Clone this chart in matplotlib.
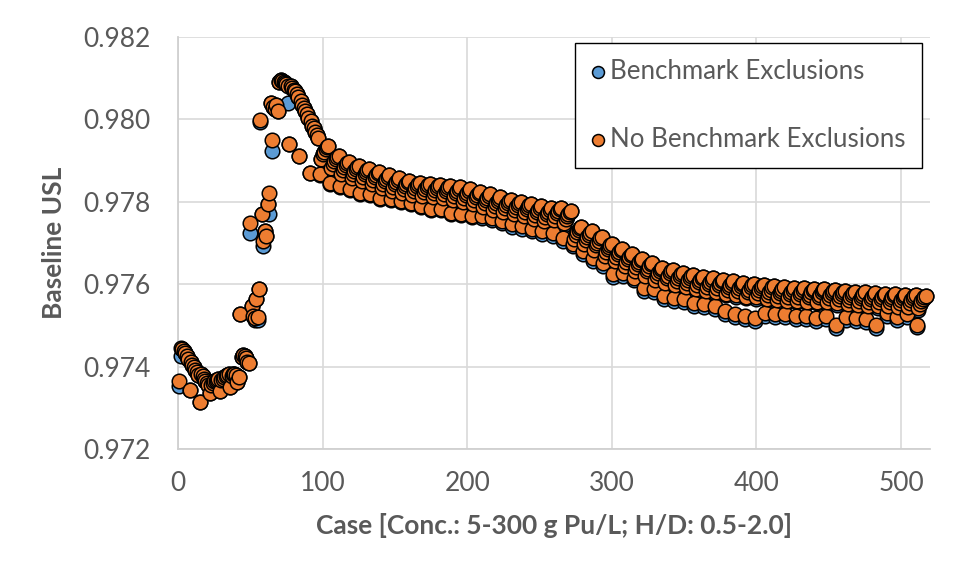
import numpy as np
import matplotlib
matplotlib.use("Agg")
import matplotlib.pyplot as plt

plt.rcParams['font.family'] = ['Lato', 'DejaVu Sans']

series_names = ["Benchmark Exclusions", "No Benchmark Exclusions"]
x_label = "Case [Conc.: 5-300 g Pu/L; H/D: 0.5-2.0]"
y_label = "Baseline USL"
x_ticks = [0, 100, 200, 300, 400, 500]
y_ticks = [0.972, 0.974, 0.976, 0.978, 0.980, 0.982]

no_excl_usl = [
    0.97365, 0.97445, 0.97443, 0.97438, 0.97432, 0.97425, 0.97418,
    0.97343, 0.97412, 0.97405, 0.97398, 0.97392, 0.97386, 0.97380,
    0.97315, 0.97383, 0.97376, 0.97370, 0.97364, 0.97360, 0.97356,
    0.97337, 0.97356, 0.97360, 0.97364, 0.97366, 0.97368, 0.97370,
    0.97340, 0.97368, 0.97371, 0.97374, 0.97377, 0.97379, 0.97381,
    0.97350, 0.97378, 0.97381, 0.97383, 0.97380, 0.97363, 0.97375,
    0.97527, 0.97424, 0.97429, 0.97426, 0.97420, 0.97412, 0.97408,
    0.97749, 0.97546, 0.97522, 0.97517, 0.97563, 0.97520, 0.97588,
    0.97998, 0.97771, 0.97705, 0.97729, 0.97717, 0.97795, 0.97822,
    0.98041, 0.97949, 0.98030, 0.98025, 0.98035, 0.98020, 0.98090,
    0.98095, 0.98093, 0.98090, 0.98088, 0.98085, 0.98082, 0.97941,
    0.98080, 0.98076, 0.98072, 0.98068, 0.98062, 0.98055, 0.97912,
    0.98045, 0.98035, 0.98028, 0.98020, 0.98012, 0.98004, 0.97871,
    0.97996, 0.97985, 0.97978, 0.97970, 0.97962, 0.97955,
    0.97868, 0.97905, 0.97915, 0.97922, 0.97927, 0.97932, 0.97935,
    0.97846, 0.97882, 0.97892, 0.97899, 0.97904, 0.97909, 0.97912,
    0.97839, 0.97867, 0.97877, 0.97884, 0.97889, 0.97894, 0.97897,
    0.97832, 0.97857, 0.97867, 0.97874, 0.97879, 0.97884, 0.97887,
    0.97822, 0.97850, 0.97860, 0.97867, 0.97872, 0.97877, 0.97880,
    0.97820, 0.97842, 0.97852, 0.97859, 0.97864, 0.97869, 0.97872,
    0.97810, 0.97834, 0.97844, 0.97851, 0.97856, 0.97861, 0.97864,
    0.97807, 0.97827, 0.97837, 0.97844, 0.97849, 0.97854, 0.97857,
    0.97802, 0.97821, 0.97831, 0.97838, 0.97843, 0.97848, 0.97851,
    0.97798, 0.97816, 0.97826, 0.97833, 0.97838, 0.97843, 0.97846,
    0.97790, 0.97813, 0.97823, 0.97830, 0.97835, 0.97840, 0.97843,
    0.97783, 0.97811, 0.97821, 0.97828, 0.97833, 0.97838, 0.97841,
    0.97783, 0.97809, 0.97819, 0.97826, 0.97831, 0.97836, 0.97839,
    0.97773, 0.97805, 0.97815, 0.97822, 0.97827, 0.97832, 0.97835,
    0.97770, 0.97800, 0.97810, 0.97817, 0.97822, 0.97827, 0.97830,
    0.97766, 0.97794, 0.97804, 0.97811, 0.97816, 0.97821, 0.97824,
    0.97766, 0.97788, 0.97798, 0.97805, 0.97810, 0.97815, 0.97818,
    0.97761, 0.97781, 0.97791, 0.97798, 0.97803, 0.97808, 0.97811,
    0.97754, 0.97775, 0.97785, 0.97792, 0.97797, 0.97802, 0.97805,
    0.97746, 0.97770, 0.97780, 0.97787, 0.97792, 0.97797, 0.97800,
    0.97741, 0.97765, 0.97775, 0.97782, 0.97787, 0.97792, 0.97795,
    0.97734, 0.97759, 0.97769, 0.97776, 0.97781, 0.97786, 0.97789,
    0.97729, 0.97754, 0.97764, 0.97771, 0.97776, 0.97781, 0.97784,
    0.97724, 0.97755, 0.97765, 0.97772, 0.97777, 0.97782, 0.97785,
    0.97712, 0.97748, 0.97758, 0.97765, 0.97770, 0.97775, 0.97778,
    0.97698, 0.97710, 0.97720, 0.97727, 0.97732, 0.97737, 0.97740,
    0.97680, 0.97698, 0.97708, 0.97715, 0.97720, 0.97725, 0.97728,
    0.97663, 0.97684, 0.97694, 0.97701, 0.97706, 0.97711, 0.97714,
    0.97651, 0.97668, 0.97678, 0.97685, 0.97690, 0.97695, 0.97698,
    0.97624, 0.97656, 0.97666, 0.97673, 0.97678, 0.97683, 0.97686,
    0.97627, 0.97644, 0.97654, 0.97661, 0.97666, 0.97671, 0.97674,
    0.97615, 0.97632, 0.97642, 0.97649, 0.97654, 0.97659, 0.97662,
    0.97590, 0.97621, 0.97631, 0.97638, 0.97643, 0.97648, 0.97651,
    0.97588, 0.97610, 0.97620, 0.97627, 0.97632, 0.97637, 0.97640,
    0.97571, 0.97604, 0.97614, 0.97621, 0.97626, 0.97631, 0.97634,
    0.97566, 0.97598, 0.97608, 0.97615, 0.97620, 0.97625, 0.97628,
    0.97563, 0.97592, 0.97602, 0.97609, 0.97614, 0.97619, 0.97622,
    0.97554, 0.97588, 0.97598, 0.97605, 0.97610, 0.97615, 0.97618,
    0.97551, 0.97584, 0.97594, 0.97601, 0.97606, 0.97611, 0.97614,
    0.97546, 0.97580, 0.97590, 0.97597, 0.97602, 0.97607, 0.97610,
    0.97534, 0.97577, 0.97587, 0.97594, 0.97599, 0.97604, 0.97607,
    0.97527, 0.97573, 0.97583, 0.97590, 0.97595, 0.97600, 0.97603,
    0.97522, 0.97570, 0.97580, 0.97587, 0.97592, 0.97597, 0.97600,
    0.97517, 0.97568, 0.97578, 0.97585, 0.97590, 0.97595, 0.97598,
    0.97529, 0.97565, 0.97575, 0.97582, 0.97587, 0.97592, 0.97595,
    0.97527, 0.97562, 0.97572, 0.97579, 0.97584, 0.97589, 0.97592,
    0.97527, 0.97560, 0.97570, 0.97577, 0.97582, 0.97587, 0.97590,
    0.97522, 0.97560, 0.97570, 0.97577, 0.97582, 0.97587, 0.97590,
    0.97522, 0.97558, 0.97568, 0.97575, 0.97580, 0.97585, 0.97588,
    0.97517, 0.97558, 0.97568, 0.97575, 0.97580, 0.97585, 0.97588,
    0.97522, 0.97556, 0.97566, 0.97573, 0.97578, 0.97583, 0.97586,
    0.97500, 0.97554, 0.97564, 0.97571, 0.97576, 0.97581, 0.97584,
    0.97520, 0.97552, 0.97562, 0.97569, 0.97574, 0.97579, 0.97582,
    0.97517, 0.97550, 0.97560, 0.97567, 0.97572, 0.97577, 0.97580,
    0.97515, 0.97548, 0.97558, 0.97565, 0.97570, 0.97575, 0.97578,
    0.97500, 0.97547, 0.97557, 0.97564, 0.97569, 0.97574, 0.97577,
    0.97529, 0.97546, 0.97556, 0.97563, 0.97568, 0.97573, 0.97576,
    0.97520, 0.97545, 0.97555, 0.97562, 0.97567, 0.97572, 0.97575,
    0.97527, 0.97544, 0.97554, 0.97561, 0.97566, 0.97571, 0.97574,
    0.97502, 0.97542, 0.97552, 0.97559, 0.97564, 0.97569, 0.97572,
]

excl_usl = [
    0.97352, 0.97425, 0.97443, 0.97438, 0.97432, 0.97425, 0.97418,
    0.97343, 0.97412, 0.97405, 0.97398, 0.97392, 0.97386, 0.97380,
    0.97315, 0.97383, 0.97376, 0.97370, 0.97364, 0.97360, 0.97356,
    0.97337, 0.97356, 0.97360, 0.97364, 0.97366, 0.97368, 0.97370,
    0.97340, 0.97368, 0.97371, 0.97374, 0.97377, 0.97379, 0.97381,
    0.97350, 0.97378, 0.97381, 0.97383, 0.97380, 0.97363, 0.97375,
    0.97527, 0.97424, 0.97429, 0.97426, 0.97420, 0.97412, 0.97408,
    0.97724, 0.97546, 0.97522, 0.97512, 0.97563, 0.97514, 0.97588,
    0.97993, 0.97771, 0.97693, 0.97729, 0.97717, 0.97795, 0.97771,
    0.98041, 0.97924, 0.98030, 0.98025, 0.98035, 0.98020, 0.98090,
    0.98095, 0.98093, 0.98090, 0.98088, 0.98085, 0.98039, 0.97941,
    0.98080, 0.98076, 0.98072, 0.98068, 0.98062, 0.98055, 0.97912,
    0.98045, 0.98035, 0.98028, 0.98020, 0.98012, 0.98004, 0.97871,
    0.97996, 0.97985, 0.97978, 0.97970, 0.97962, 0.97955,
    0.97865, 0.97905, 0.97915, 0.97922, 0.97927, 0.97932, 0.97935,
    0.97843, 0.97882, 0.97892, 0.97899, 0.97904, 0.97909, 0.97912,
    0.97836, 0.97867, 0.97877, 0.97884, 0.97889, 0.97894, 0.97897,
    0.97829, 0.97857, 0.97867, 0.97874, 0.97879, 0.97884, 0.97887,
    0.97819, 0.97850, 0.97860, 0.97867, 0.97872, 0.97877, 0.97880,
    0.97817, 0.97842, 0.97852, 0.97859, 0.97864, 0.97869, 0.97872,
    0.97807, 0.97834, 0.97844, 0.97851, 0.97856, 0.97861, 0.97864,
    0.97804, 0.97827, 0.97837, 0.97844, 0.97849, 0.97854, 0.97857,
    0.97799, 0.97821, 0.97831, 0.97838, 0.97843, 0.97848, 0.97851,
    0.97795, 0.97816, 0.97826, 0.97833, 0.97838, 0.97843, 0.97846,
    0.97787, 0.97813, 0.97823, 0.97830, 0.97835, 0.97840, 0.97843,
    0.97780, 0.97811, 0.97821, 0.97828, 0.97833, 0.97838, 0.97841,
    0.97780, 0.97809, 0.97819, 0.97826, 0.97831, 0.97836, 0.97839,
    0.97770, 0.97805, 0.97815, 0.97822, 0.97827, 0.97832, 0.97835,
    0.97767, 0.97800, 0.97810, 0.97817, 0.97822, 0.97827, 0.97830,
    0.97763, 0.97794, 0.97804, 0.97811, 0.97816, 0.97821, 0.97824,
    0.97760, 0.97784, 0.97798, 0.97805, 0.97810, 0.97815, 0.97818,
    0.97755, 0.97777, 0.97791, 0.97798, 0.97803, 0.97808, 0.97811,
    0.97748, 0.97771, 0.97785, 0.97792, 0.97797, 0.97802, 0.97805,
    0.97740, 0.97766, 0.97780, 0.97787, 0.97792, 0.97797, 0.97800,
    0.97735, 0.97761, 0.97775, 0.97782, 0.97787, 0.97792, 0.97795,
    0.97728, 0.97755, 0.97769, 0.97776, 0.97781, 0.97786, 0.97789,
    0.97723, 0.97750, 0.97764, 0.97771, 0.97776, 0.97781, 0.97784,
    0.97718, 0.97751, 0.97765, 0.97772, 0.97777, 0.97782, 0.97785,
    0.97706, 0.97744, 0.97758, 0.97765, 0.97770, 0.97775, 0.97778,
    0.97692, 0.97706, 0.97720, 0.97727, 0.97732, 0.97737, 0.97740,
    0.97674, 0.97694, 0.97708, 0.97715, 0.97720, 0.97725, 0.97728,
    0.97657, 0.97680, 0.97694, 0.97701, 0.97706, 0.97711, 0.97714,
    0.97645, 0.97664, 0.97678, 0.97685, 0.97690, 0.97695, 0.97698,
    0.97618, 0.97652, 0.97666, 0.97673, 0.97678, 0.97683, 0.97686,
    0.97621, 0.97640, 0.97654, 0.97661, 0.97666, 0.97671, 0.97674,
    0.97609, 0.97628, 0.97642, 0.97649, 0.97654, 0.97659, 0.97662,
    0.97584, 0.97617, 0.97631, 0.97638, 0.97643, 0.97648, 0.97651,
    0.97582, 0.97606, 0.97620, 0.97627, 0.97632, 0.97637, 0.97640,
    0.97565, 0.97600, 0.97614, 0.97621, 0.97626, 0.97631, 0.97634,
    0.97560, 0.97594, 0.97608, 0.97615, 0.97620, 0.97625, 0.97628,
    0.97557, 0.97588, 0.97602, 0.97609, 0.97614, 0.97619, 0.97622,
    0.97548, 0.97584, 0.97598, 0.97605, 0.97610, 0.97615, 0.97618,
    0.97545, 0.97580, 0.97594, 0.97601, 0.97606, 0.97611, 0.97614,
    0.97540, 0.97576, 0.97590, 0.97597, 0.97602, 0.97607, 0.97610,
    0.97528, 0.97573, 0.97587, 0.97594, 0.97599, 0.97604, 0.97607,
    0.97521, 0.97569, 0.97583, 0.97590, 0.97595, 0.97600, 0.97603,
    0.97516, 0.97566, 0.97580, 0.97587, 0.97592, 0.97597, 0.97600,
    0.97511, 0.97564, 0.97578, 0.97585, 0.97590, 0.97595, 0.97598,
    0.97523, 0.97561, 0.97575, 0.97582, 0.97587, 0.97592, 0.97595,
    0.97521, 0.97558, 0.97572, 0.97579, 0.97584, 0.97589, 0.97592,
    0.97521, 0.97556, 0.97570, 0.97577, 0.97582, 0.97587, 0.97590,
    0.97516, 0.97556, 0.97570, 0.97577, 0.97582, 0.97587, 0.97590,
    0.97516, 0.97554, 0.97568, 0.97575, 0.97580, 0.97585, 0.97588,
    0.97511, 0.97554, 0.97568, 0.97575, 0.97580, 0.97585, 0.97588,
    0.97516, 0.97552, 0.97566, 0.97573, 0.97578, 0.97583, 0.97586,
    0.97494, 0.97550, 0.97564, 0.97571, 0.97576, 0.97581, 0.97584,
    0.97514, 0.97548, 0.97562, 0.97569, 0.97574, 0.97579, 0.97582,
    0.97511, 0.97546, 0.97560, 0.97567, 0.97572, 0.97577, 0.97580,
    0.97509, 0.97544, 0.97558, 0.97565, 0.97570, 0.97575, 0.97578,
    0.97494, 0.97543, 0.97557, 0.97564, 0.97569, 0.97574, 0.97577,
    0.97523, 0.97542, 0.97556, 0.97563, 0.97568, 0.97573, 0.97576,
    0.97514, 0.97541, 0.97555, 0.97562, 0.97567, 0.97572, 0.97575,
    0.97521, 0.97540, 0.97554, 0.97561, 0.97566, 0.97571, 0.97574,
    0.97496, 0.97538, 0.97552, 0.97559, 0.97564, 0.97569, 0.97572,
]

cases = np.arange(1, len(no_excl_usl) + 1)

text_color = "#595959"
grid_color = "#D9D9D9"
blue = "#5B9BD5"
orange = "#ED7D31"

fig = plt.figure(figsize=(9.57, 5.78), dpi=100)
ax = fig.add_axes([178 / 957, 1 - 449 / 578, (930 - 178) / 957, (449 - 37) / 578])

ax.scatter(cases, excl_usl, s=110, c=blue, edgecolors="black", linewidths=1.1,
           zorder=3, clip_on=False, label=series_names[0])
ax.scatter(cases, no_excl_usl, s=110, c=orange, edgecolors="black", linewidths=1.1,
           zorder=4, clip_on=False, label=series_names[1])

ax.set_xlim(0, 520)
ax.set_ylim(0.972, 0.982)
ax.set_xticks(x_ticks)
ax.set_yticks(y_ticks)
ax.set_yticklabels([f"{v:.3f}" for v in y_ticks])
ax.grid(True, color=grid_color, linewidth=1.2, zorder=0)
ax.set_axisbelow(True)
for s in ["top", "right"]:
    ax.spines[s].set_visible(False)
for s in ["left", "bottom"]:
    ax.spines[s].set_color("#D0D0D0")
    ax.spines[s].set_linewidth(1.3)
ax.tick_params(axis="both", length=0, labelsize=19, labelcolor=text_color)
ax.tick_params(axis="x", pad=16)
ax.tick_params(axis="y", pad=20)

ax.set_xlabel(x_label, fontsize=19, fontweight="bold", color=text_color, labelpad=12)
ax.set_ylabel(y_label, fontsize=19, fontweight="bold", color=text_color, labelpad=12)

leg = ax.legend(loc="upper right", bbox_to_anchor=(0.989, 0.985), fontsize=18.6,
                frameon=True, fancybox=False, edgecolor="black", framealpha=1,
                labelspacing=1.65, handletextpad=0.2, handlelength=0.55,
                borderpad=0.62, markerscale=0.82, borderaxespad=0)
leg.get_frame().set_linewidth(1.0)
for t in leg.get_texts():
    t.set_color(text_color)
leg.set_zorder(10)

fig.savefig("out.png", dpi=100)
